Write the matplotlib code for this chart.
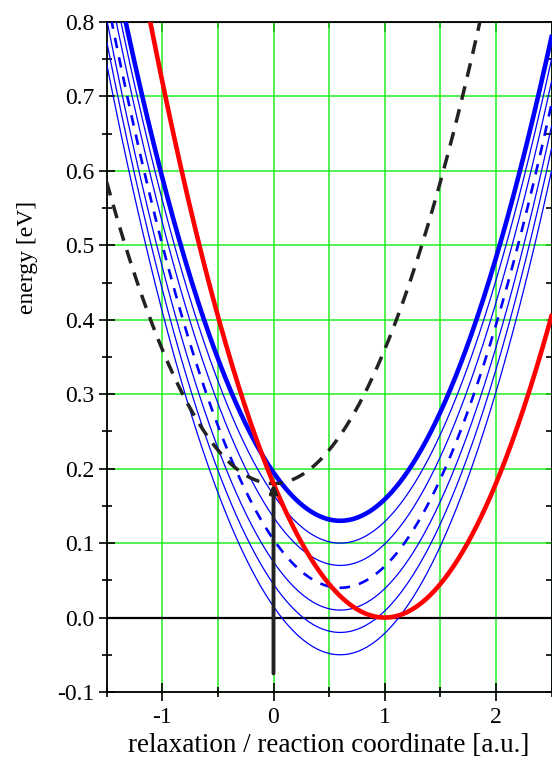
import numpy as np
import matplotlib
matplotlib.use("Agg")
import matplotlib.pyplot as plt
from matplotlib.ticker import MultipleLocator, FixedLocator, FormatStrFormatter

plt.rcParams["font.family"] = ["Liberation Serif", "DejaVu Serif"]
plt.rcParams["axes.unicode_minus"] = False

# harmonic potentials E = E0 + k (x - x0)^2, parameters
curvature = 0.18

# final state (red)
red_center = 1.0
red_min = 0.0

# initial state family (blue), all centred at the same coordinate
blue_center = 0.6
blue_thick_min = 0.13
blue_thin_mins = [0.10, 0.07, 0.01, -0.02, -0.05]
blue_dashed_min = 0.04

# reference state (black dashed)
black_center = 0.0
black_min = 0.18

# vertical arrow at x = 0
arrow_x = 0.0
arrow_from = -0.075
arrow_to = 0.18

x_ticks = [-1, 0, 1, 2]
y_ticks = [-0.1, 0.0, 0.1, 0.2, 0.3, 0.4, 0.5, 0.6, 0.7, 0.8]


def parabola(xs, x0, e0):
    return e0 + curvature * (xs - x0) ** 2


fig = plt.figure(figsize=(5.52, 7.6), dpi=100)
ax = fig.add_axes([106.7 / 552, 68 / 760, 444.8 / 552, 670 / 760])

xs = np.linspace(-1.5, 2.5, 600)

grid_col = "#22ee22"
ax.set_axisbelow(True)
ax.xaxis.set_major_locator(FixedLocator(x_ticks))
ax.xaxis.set_minor_locator(MultipleLocator(0.5))
ax.yaxis.set_major_locator(FixedLocator(y_ticks))
ax.yaxis.set_minor_locator(MultipleLocator(0.05))
ax.yaxis.set_major_formatter(FormatStrFormatter("%.1f"))
ax.grid(True, which="major", axis="y", color=grid_col, lw=1.1)
ax.grid(True, which="both", axis="x", color=grid_col, lw=1.1)

ax.axhline(0, color="black", lw=1.6, zorder=2)

for m in blue_thin_mins:
    ax.plot(xs, parabola(xs, blue_center, m), color="#0000ff", lw=0.9, zorder=3)
ax.plot(xs, parabola(xs, blue_center, blue_dashed_min), color="#0000ff", lw=1.9,
        dashes=(4, 3.5), zorder=3)
ax.plot(xs, parabola(xs, blue_center, blue_thick_min), color="#0000ff", lw=3.3, zorder=4)
ax.plot(xs, parabola(xs, black_center, black_min), color="#222222", lw=2.5,
        dashes=(4, 2.8), zorder=4)
ax.plot(xs, parabola(xs, red_center, red_min), color="#ff0000", lw=3.3, zorder=5)

ax.annotate("", xy=(arrow_x, arrow_to), xytext=(arrow_x, arrow_from),
            arrowprops=dict(arrowstyle="-|>,head_length=0.45,head_width=0.2",
                            color="#222222", lw=2.8, shrinkA=0, shrinkB=0),
            zorder=6)

ax.set_xlim(-1.5, 2.5)
ax.set_ylim(-0.1, 0.8)

for s in ax.spines.values():
    s.set_linewidth(1.3)

ax.tick_params(axis="x", which="major", direction="inout", length=13, width=1.2,
               labelsize=17, pad=4)
ax.tick_params(axis="x", which="minor", direction="inout", length=7.5, width=1.2)
ax.tick_params(axis="y", which="major", direction="inout", length=11.5, width=1.2,
               labelsize=17, pad=3)
ax.tick_params(axis="y", which="minor", direction="inout", length=7, width=1.2)

top = ax.secondary_xaxis("top")
top.xaxis.set_major_locator(MultipleLocator(1))
top.xaxis.set_minor_locator(MultipleLocator(0.5))
top.tick_params(which="major", direction="in", length=7, width=1.2, labeltop=False)
top.tick_params(which="minor", direction="in", length=4, width=1.2)

right = ax.secondary_yaxis("right")
right.yaxis.set_major_locator(MultipleLocator(0.1))
right.yaxis.set_minor_locator(MultipleLocator(0.05))
right.tick_params(which="major", direction="in", length=4, width=1.2, labelright=False)
right.tick_params(which="minor", direction="in", length=4, width=1.2)

ax.set_xlabel("relaxation / reaction coordinate [a.u.]", fontsize=19.5, labelpad=4)
ax.set_ylabel("energy [eV]", fontsize=17)
ax.yaxis.set_label_coords(-0.155, 0.648)

fig.savefig("out.png", dpi=100)
